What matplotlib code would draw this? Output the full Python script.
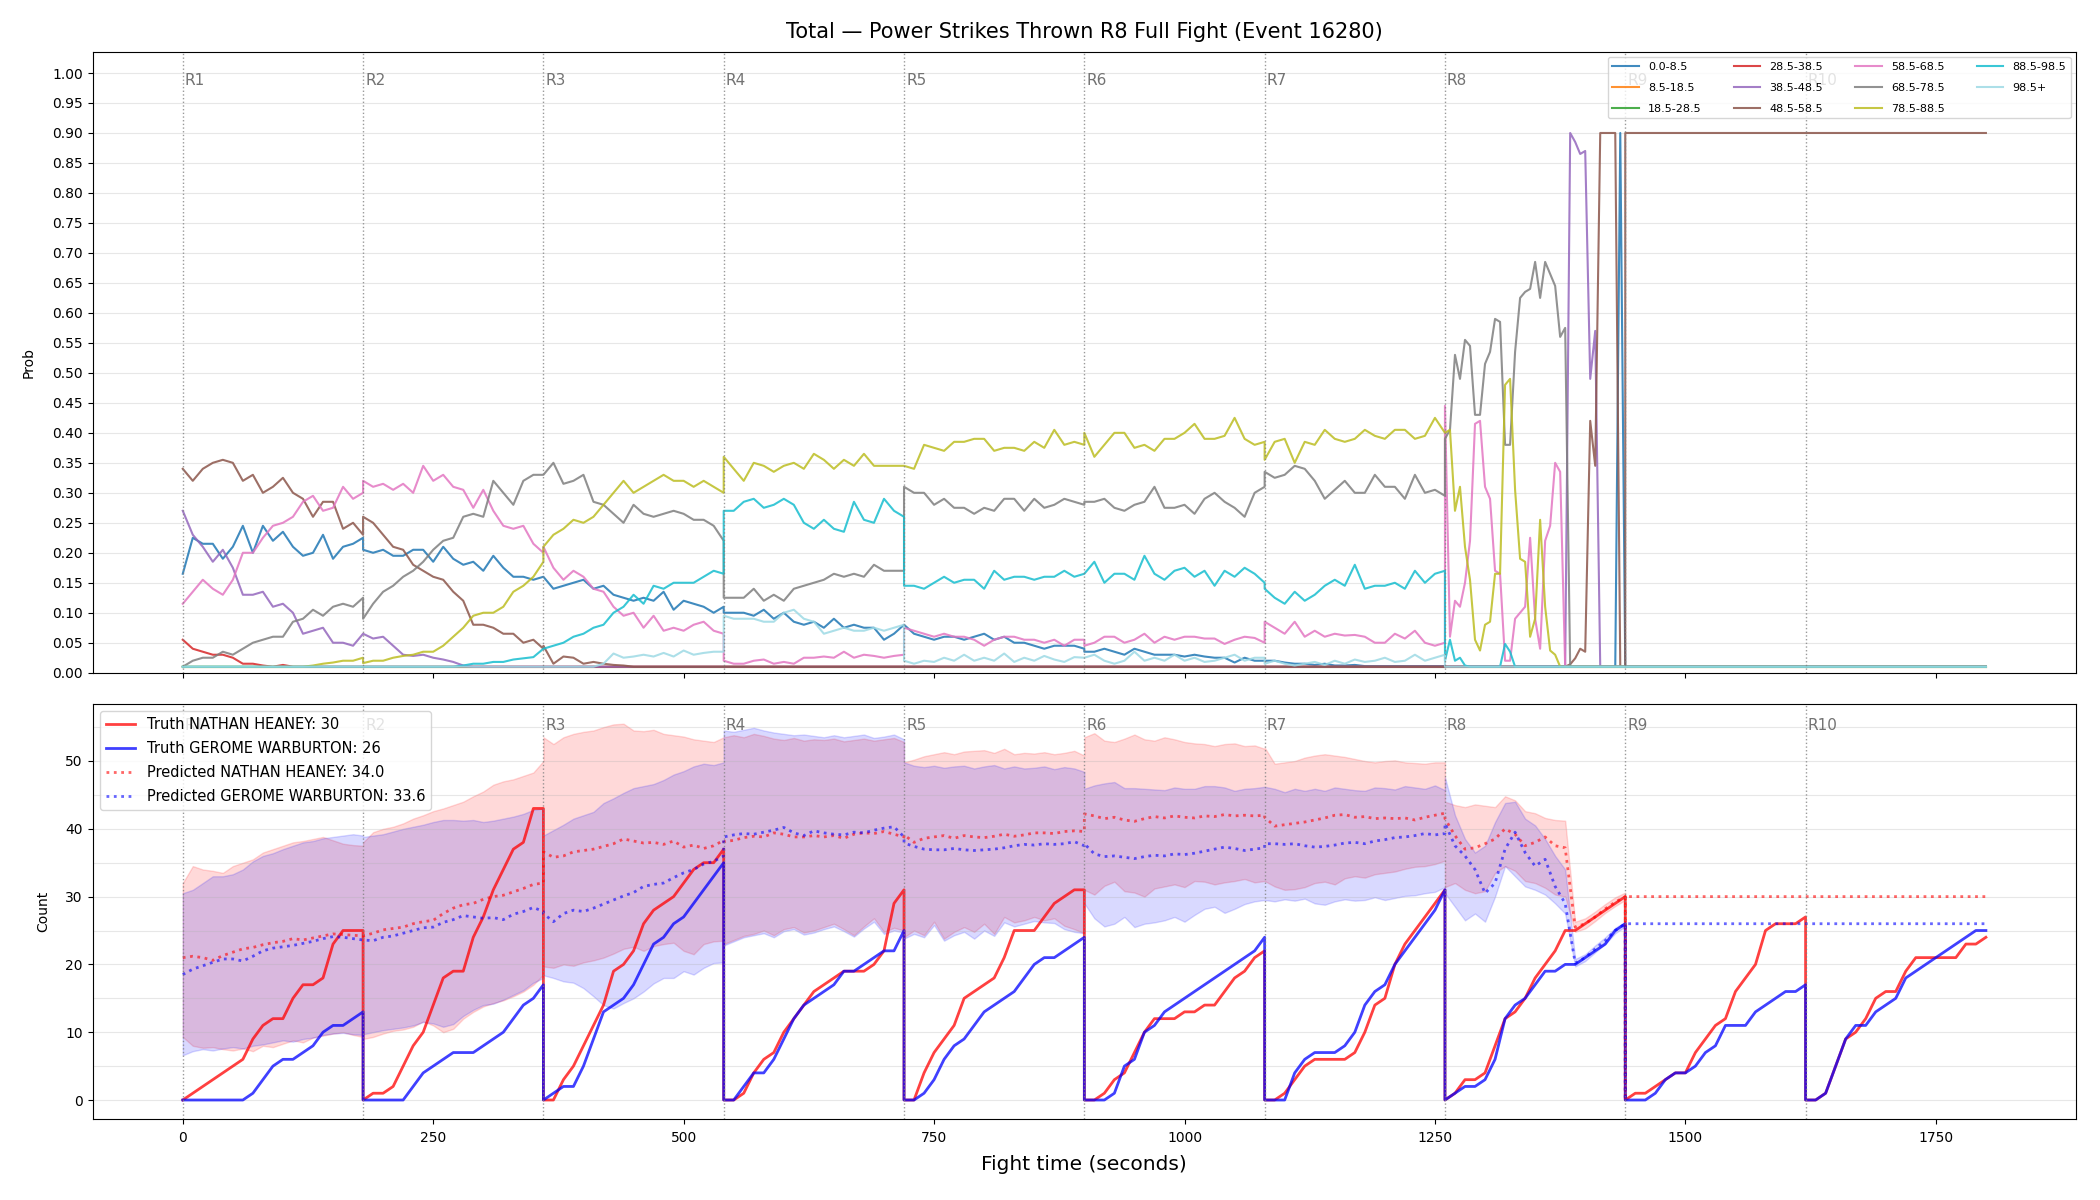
import numpy as np
import matplotlib
matplotlib.use("Agg")
import matplotlib.pyplot as plt
from matplotlib.ticker import MultipleLocator

ROUND_LEN = 180
round_starts = [0, 180, 360, 540, 720, 900, 1080, 1260, 1440, 1620]
round_names = ["R1", "R2", "R3", "R4", "R5", "R6", "R7", "R8", "R9", "R10"]

# ---- top panel: probability per bucket, one list per round (evenly spaced in the round)
bins = ["0.0-8.5", "8.5-18.5", "18.5-28.5", "28.5-38.5", "38.5-48.5", "48.5-58.5",
        "58.5-68.5", "68.5-78.5", "78.5-88.5", "88.5-98.5", "98.5+"]
bin_colors = ["#1f77b4", "#ff7f0e", "#2ca02c", "#d62728", "#9467bd", "#8c564b",
              "#e377c2", "#7f7f7f", "#bcbd22", "#17becf", "#9edae5"]

p_0_8 = [
    [0.165, 0.225, 0.215, 0.215, 0.19, 0.21, 0.245, 0.20, 0.245, 0.22, 0.235, 0.21, 0.195, 0.20, 0.23, 0.19, 0.21, 0.215, 0.225],
    [0.205, 0.20, 0.205, 0.195, 0.195, 0.205, 0.205, 0.185, 0.21, 0.19, 0.18, 0.185, 0.17, 0.195, 0.175, 0.16, 0.16, 0.155, 0.16],
    [0.16, 0.14, 0.145, 0.15, 0.155, 0.14, 0.145, 0.13, 0.125, 0.12, 0.125, 0.12, 0.135, 0.105, 0.12, 0.115, 0.11, 0.10, 0.11],
    [0.10, 0.10, 0.10, 0.095, 0.105, 0.09, 0.10, 0.085, 0.08, 0.085, 0.075, 0.09, 0.075, 0.08, 0.075, 0.075, 0.055, 0.065, 0.08],
    [0.08, 0.065, 0.06, 0.055, 0.06, 0.06, 0.055, 0.06, 0.065, 0.055, 0.06, 0.05, 0.05, 0.045, 0.04, 0.045, 0.045, 0.045, 0.04],
    [0.035, 0.035, 0.04, 0.035, 0.03, 0.04, 0.035, 0.03, 0.03, 0.03, 0.027, 0.03, 0.027, 0.025, 0.025, 0.017, 0.025, 0.02, 0.02],
    [0.02, 0.02, 0.017, 0.015, 0.015, 0.013, 0.015, 0.012, 0.012, 0.013, 0.011, 0.011, 0.011, 0.011, 0.011, 0.011, 0.011, 0.011, 0.011],
    [0.01, 0.01, 0.01, 0.01, 0.01, 0.01, 0.01, 0.01, 0.01, 0.01,
     0.01, 0.01, 0.01, 0.01, 0.01, 0.01, 0.01, 0.01, 0.01, 0.01,
     0.01, 0.01, 0.01, 0.01, 0.01, 0.01, 0.01, 0.01, 0.01, 0.01,
     0.01, 0.01, 0.01, 0.01, 0.01, 0.9, 0.01],
    [0.01, 0.01],
    [0.01, 0.01],
]
p_8_18 = [[0.01, 0.01], [0.01, 0.01], [0.01, 0.01], [0.01, 0.01], [0.01, 0.01],
          [0.01, 0.01], [0.01, 0.01], [0.01, 0.01], [0.01, 0.01], [0.01, 0.01]]
p_18_28 = [[0.01, 0.01], [0.01, 0.01], [0.01, 0.01], [0.01, 0.01], [0.01, 0.01],
           [0.01, 0.01], [0.01, 0.01], [0.01, 0.01], [0.01, 0.01], [0.01, 0.01]]
p_28_38 = [
    [0.055, 0.04, 0.035, 0.03, 0.03, 0.025, 0.015, 0.015, 0.012, 0.01, 0.013, 0.01, 0.01, 0.01, 0.01, 0.01, 0.01, 0.01, 0.01],
    [0.01, 0.01], [0.01, 0.01], [0.01, 0.01], [0.01, 0.01], [0.01, 0.01],
    [0.01, 0.01], [0.01, 0.01], [0.01, 0.01], [0.01, 0.01],
]
p_38_48 = [
    [0.27, 0.23, 0.21, 0.185, 0.205, 0.175, 0.13, 0.13, 0.135, 0.11, 0.115, 0.10, 0.065, 0.07, 0.075, 0.05, 0.05, 0.045, 0.065],
    [0.065, 0.057, 0.06, 0.045, 0.03, 0.028, 0.03, 0.025, 0.022, 0.018, 0.012, 0.01, 0.01, 0.01, 0.01, 0.01, 0.01, 0.01, 0.01],
    [0.01, 0.01], [0.01, 0.01], [0.01, 0.01], [0.01, 0.01], [0.01, 0.01],
    [0.01, 0.01, 0.01, 0.01, 0.01, 0.01, 0.01, 0.01, 0.01, 0.01,
     0.01, 0.01, 0.01, 0.01, 0.01, 0.01, 0.01, 0.01, 0.01, 0.01,
     0.01, 0.01, 0.01, 0.01, 0.01, 0.9, 0.885, 0.865, 0.87, 0.49,
     0.57, 0.01, 0.01, 0.01, 0.01, 0.01, 0.01],
    [0.01, 0.01],
    [0.01, 0.01],
]
p_48_58 = [
    [0.34, 0.32, 0.34, 0.35, 0.355, 0.35, 0.32, 0.33, 0.30, 0.31, 0.325, 0.30, 0.29, 0.26, 0.285, 0.285, 0.24, 0.25, 0.23],
    [0.26, 0.25, 0.23, 0.21, 0.205, 0.18, 0.17, 0.16, 0.155, 0.135, 0.12, 0.08, 0.08, 0.075, 0.065, 0.065, 0.05, 0.055, 0.04],
    [0.045, 0.015, 0.027, 0.025, 0.015, 0.018, 0.015, 0.013, 0.012, 0.01, 0.01, 0.01, 0.01, 0.01, 0.01, 0.01, 0.01, 0.01, 0.01],
    [0.01, 0.01], [0.01, 0.01], [0.01, 0.01], [0.01, 0.01],
    [0.01, 0.01, 0.01, 0.01, 0.01, 0.01, 0.01, 0.01, 0.01, 0.01,
     0.01, 0.01, 0.01, 0.01, 0.01, 0.01, 0.01, 0.01, 0.01, 0.01,
     0.01, 0.01, 0.01, 0.01, 0.01, 0.014, 0.024, 0.04, 0.035, 0.42,
     0.345, 0.9, 0.9, 0.9, 0.9, 0.01, 0.01],
    [0.9, 0.9],
    [0.9, 0.9],
]
p_58_68 = [
    [0.115, 0.135, 0.155, 0.14, 0.13, 0.155, 0.20, 0.20, 0.225, 0.245, 0.25, 0.26, 0.285, 0.295, 0.27, 0.275, 0.31, 0.29, 0.30],
    [0.32, 0.31, 0.315, 0.305, 0.315, 0.30, 0.345, 0.32, 0.33, 0.31, 0.305, 0.275, 0.305, 0.27, 0.245, 0.24, 0.245, 0.215, 0.20],
    [0.21, 0.175, 0.155, 0.17, 0.16, 0.14, 0.135, 0.11, 0.095, 0.10, 0.075, 0.095, 0.07, 0.075, 0.07, 0.08, 0.085, 0.07, 0.065],
    [0.02, 0.015, 0.015, 0.02, 0.022, 0.015, 0.018, 0.015, 0.025, 0.025, 0.027, 0.025, 0.035, 0.025, 0.03, 0.028, 0.025, 0.028, 0.03],
    [0.075, 0.07, 0.065, 0.06, 0.065, 0.06, 0.06, 0.055, 0.045, 0.055, 0.06, 0.06, 0.055, 0.055, 0.05, 0.055, 0.045, 0.055, 0.055],
    [0.045, 0.05, 0.06, 0.06, 0.05, 0.055, 0.065, 0.05, 0.06, 0.055, 0.06, 0.06, 0.057, 0.057, 0.048, 0.055, 0.06, 0.058, 0.05],
    [0.085, 0.075, 0.065, 0.085, 0.06, 0.07, 0.06, 0.065, 0.062, 0.063, 0.06, 0.05, 0.05, 0.065, 0.057, 0.07, 0.05, 0.045, 0.05],
    [0.445, 0.06, 0.12, 0.11, 0.15, 0.22, 0.415, 0.42, 0.31, 0.29,
     0.17, 0.165, 0.02, 0.02, 0.09, 0.10, 0.11, 0.225, 0.09, 0.04,
     0.22, 0.245, 0.35, 0.335, 0.01, 0.01, 0.01, 0.01, 0.01, 0.01,
     0.01, 0.01, 0.01, 0.01, 0.01, 0.01, 0.01],
    [0.01, 0.01],
    [0.01, 0.01],
]
p_68_78 = [
    [0.01, 0.02, 0.025, 0.025, 0.035, 0.03, 0.04, 0.05, 0.055, 0.06, 0.06, 0.085, 0.09, 0.105, 0.095, 0.11, 0.115, 0.11, 0.125],
    [0.09, 0.115, 0.135, 0.145, 0.16, 0.17, 0.185, 0.205, 0.22, 0.225, 0.26, 0.265, 0.26, 0.32, 0.30, 0.28, 0.32, 0.33, 0.33],
    [0.33, 0.35, 0.315, 0.32, 0.33, 0.285, 0.28, 0.265, 0.25, 0.28, 0.265, 0.26, 0.265, 0.27, 0.265, 0.255, 0.255, 0.245, 0.22],
    [0.125, 0.125, 0.125, 0.14, 0.12, 0.13, 0.12, 0.14, 0.145, 0.15, 0.155, 0.165, 0.16, 0.165, 0.16, 0.18, 0.17, 0.17, 0.17],
    [0.31, 0.30, 0.30, 0.28, 0.29, 0.275, 0.275, 0.265, 0.275, 0.27, 0.29, 0.29, 0.27, 0.29, 0.275, 0.28, 0.29, 0.285, 0.28],
    [0.285, 0.285, 0.29, 0.275, 0.27, 0.28, 0.285, 0.31, 0.275, 0.275, 0.28, 0.265, 0.29, 0.30, 0.285, 0.275, 0.26, 0.30, 0.31],
    [0.335, 0.325, 0.33, 0.345, 0.34, 0.32, 0.29, 0.305, 0.32, 0.30, 0.30, 0.33, 0.31, 0.31, 0.29, 0.33, 0.30, 0.305, 0.295],
    [0.39, 0.405, 0.53, 0.49, 0.555, 0.545, 0.43, 0.43, 0.515, 0.535,
     0.59, 0.585, 0.38, 0.38, 0.535, 0.625, 0.635, 0.64, 0.685, 0.625,
     0.685, 0.665, 0.645, 0.56, 0.575, 0.01, 0.01, 0.01, 0.01, 0.01,
     0.01, 0.01, 0.01, 0.01, 0.01, 0.01, 0.01],
    [0.01, 0.01],
    [0.01, 0.01],
]
p_78_88 = [
    [0.01, 0.01, 0.01, 0.01, 0.01, 0.01, 0.01, 0.01, 0.01, 0.01, 0.01, 0.01, 0.01, 0.012, 0.015, 0.017, 0.02, 0.02, 0.025],
    [0.016, 0.02, 0.02, 0.025, 0.028, 0.03, 0.035, 0.035, 0.045, 0.06, 0.075, 0.095, 0.10, 0.10, 0.11, 0.135, 0.145, 0.16, 0.185],
    [0.21, 0.23, 0.24, 0.255, 0.25, 0.26, 0.28, 0.30, 0.32, 0.30, 0.31, 0.32, 0.33, 0.32, 0.32, 0.31, 0.32, 0.31, 0.30],
    [0.36, 0.34, 0.32, 0.35, 0.345, 0.335, 0.345, 0.35, 0.34, 0.365, 0.355, 0.34, 0.355, 0.345, 0.365, 0.345, 0.345, 0.345, 0.345],
    [0.345, 0.34, 0.38, 0.375, 0.37, 0.385, 0.385, 0.39, 0.39, 0.37, 0.375, 0.375, 0.37, 0.385, 0.375, 0.405, 0.38, 0.385, 0.38],
    [0.40, 0.36, 0.38, 0.40, 0.40, 0.375, 0.38, 0.37, 0.39, 0.39, 0.40, 0.415, 0.39, 0.39, 0.395, 0.425, 0.39, 0.38, 0.385],
    [0.355, 0.385, 0.39, 0.35, 0.385, 0.38, 0.405, 0.39, 0.385, 0.39, 0.405, 0.395, 0.39, 0.405, 0.405, 0.39, 0.395, 0.425, 0.40],
    [0.40, 0.405, 0.27, 0.31, 0.21, 0.155, 0.055, 0.037, 0.08, 0.085,
     0.165, 0.165, 0.48, 0.49, 0.305, 0.19, 0.185, 0.06, 0.09, 0.255,
     0.11, 0.037, 0.03, 0.01, 0.01, 0.01, 0.01, 0.01, 0.01, 0.01,
     0.01, 0.01, 0.01, 0.01, 0.01, 0.01, 0.01],
    [0.01, 0.01],
    [0.01, 0.01],
]
p_88_98 = [
    [0.01, 0.01],
    [0.01, 0.01, 0.01, 0.01, 0.01, 0.01, 0.01, 0.01, 0.01, 0.01, 0.012, 0.015, 0.015, 0.018, 0.018, 0.022, 0.024, 0.026, 0.04],
    [0.04, 0.045, 0.05, 0.06, 0.065, 0.075, 0.08, 0.10, 0.11, 0.13, 0.115, 0.145, 0.14, 0.15, 0.15, 0.15, 0.16, 0.17, 0.165],
    [0.27, 0.27, 0.285, 0.29, 0.275, 0.28, 0.29, 0.28, 0.25, 0.24, 0.255, 0.24, 0.235, 0.285, 0.255, 0.25, 0.29, 0.27, 0.26],
    [0.145, 0.145, 0.14, 0.15, 0.16, 0.15, 0.155, 0.155, 0.14, 0.17, 0.155, 0.16, 0.16, 0.155, 0.16, 0.16, 0.17, 0.16, 0.165],
    [0.165, 0.185, 0.15, 0.165, 0.165, 0.155, 0.195, 0.165, 0.155, 0.17, 0.175, 0.16, 0.17, 0.145, 0.17, 0.16, 0.175, 0.165, 0.15],
    [0.14, 0.125, 0.115, 0.135, 0.12, 0.13, 0.145, 0.155, 0.145, 0.18, 0.14, 0.145, 0.145, 0.15, 0.14, 0.17, 0.15, 0.165, 0.17],
    [0.02, 0.055, 0.02, 0.025, 0.012, 0.01, 0.01, 0.01, 0.01, 0.01,
     0.01, 0.01, 0.048, 0.035, 0.01, 0.01, 0.01, 0.01, 0.01, 0.01,
     0.01, 0.01, 0.01, 0.01, 0.01, 0.01, 0.01, 0.01, 0.01, 0.01,
     0.01, 0.01, 0.01, 0.01, 0.01, 0.01, 0.01],
    [0.01, 0.01],
    [0.01, 0.01],
]
p_98_up = [
    [0.01, 0.01],
    [0.01, 0.01],
    [0.01, 0.01, 0.01, 0.01, 0.01, 0.01, 0.015, 0.032, 0.025, 0.027, 0.03, 0.027, 0.033, 0.027, 0.037, 0.03, 0.033, 0.035, 0.035],
    [0.095, 0.09, 0.09, 0.09, 0.085, 0.085, 0.10, 0.105, 0.09, 0.085, 0.065, 0.07, 0.075, 0.07, 0.07, 0.075, 0.07, 0.075, 0.08],
    [0.02, 0.015, 0.02, 0.018, 0.025, 0.02, 0.03, 0.02, 0.025, 0.02, 0.032, 0.018, 0.025, 0.02, 0.028, 0.022, 0.018, 0.026, 0.025],
    [0.025, 0.03, 0.02, 0.015, 0.02, 0.035, 0.02, 0.025, 0.02, 0.03, 0.02, 0.025, 0.018, 0.02, 0.025, 0.03, 0.02, 0.025, 0.025],
    [0.015, 0.02, 0.015, 0.012, 0.015, 0.018, 0.013, 0.02, 0.015, 0.022, 0.018, 0.02, 0.025, 0.018, 0.02, 0.03, 0.02, 0.025, 0.03],
    [0.01, 0.01],
    [0.01, 0.01],
    [0.01, 0.01],
]
probs = [p_0_8, p_8_18, p_18_28, p_28_38, p_38_48, p_48_58,
         p_58_68, p_68_78, p_78_88, p_88_98, p_98_up]

# ---- bottom panel: cumulative counts per round (10 s samples)
truth_heaney = [
    [0, 1, 2, 3, 4, 5, 6, 9, 11, 12, 12, 15, 17, 17, 18, 23, 25, 25, 25],
    [0, 1, 1, 2, 5, 8, 10, 14, 18, 19, 19, 24, 27, 31, 34, 37, 38, 43, 43],
    [0, 0, 3, 5, 8, 11, 14, 19, 20, 22, 26, 28, 29, 30, 32, 34, 35, 35, 37],
    [0, 0, 1, 4, 6, 7, 10, 12, 14, 16, 17, 18, 19, 19, 19, 20, 22, 29, 31],
    [0, 0, 4, 7, 9, 11, 15, 16, 17, 18, 21, 25, 25, 25, 27, 29, 30, 31, 31],
    [0, 0, 1, 3, 4, 7, 10, 12, 12, 12, 13, 13, 14, 14, 16, 18, 19, 21, 22],
    [0, 0, 1, 3, 5, 6, 6, 6, 6, 7, 10, 14, 15, 20, 23, 25, 27, 29, 31],
    [0, 1, 3, 3, 4, 8, 12, 13, 15, 18, 20, 22, 25, 25, 26, 27, 28, 29, 30],
    [0, 1, 1, 2, 3, 4, 4, 7, 9, 11, 12, 16, 18, 20, 25, 26, 26, 26, 27],
    [0, 0, 1, 5, 9, 10, 12, 15, 16, 16, 19, 21, 21, 21, 21, 21, 23, 23, 24],
]
truth_warburton = [
    [0, 0, 0, 0, 0, 0, 0, 1, 3, 5, 6, 6, 7, 8, 10, 11, 11, 12, 13],
    [0, 0, 0, 0, 0, 2, 4, 5, 6, 7, 7, 7, 8, 9, 10, 12, 14, 15, 17],
    [0, 1, 2, 2, 5, 9, 13, 14, 15, 17, 20, 23, 24, 26, 27, 29, 31, 33, 35],
    [0, 0, 2, 4, 4, 6, 9, 12, 14, 15, 16, 17, 19, 19, 20, 21, 22, 22, 25],
    [0, 0, 1, 3, 6, 8, 9, 11, 13, 14, 15, 16, 18, 20, 21, 21, 22, 23, 24],
    [0, 0, 0, 1, 5, 6, 10, 11, 13, 14, 15, 16, 17, 18, 19, 20, 21, 22, 24],
    [0, 0, 0, 4, 6, 7, 7, 7, 8, 10, 14, 16, 17, 20, 22, 24, 26, 28, 31],
    [0, 1, 2, 2, 3, 6, 12, 14, 15, 17, 19, 19, 20, 20, 21, 22, 23, 25, 26],
    [0, 0, 0, 1, 3, 4, 4, 5, 7, 8, 11, 11, 11, 13, 14, 15, 16, 16, 17],
    [0, 0, 1, 5, 9, 11, 11, 13, 14, 15, 18, 19, 20, 21, 22, 23, 24, 25, 25],
]
pred_heaney = [
    [21.0, 21.2, 21.0, 20.6, 21.3, 21.8, 22.3, 22.5, 22.9, 23.2, 23.4, 23.8, 23.6, 23.9, 24.2, 24.5, 24.4, 24.3, 24.2],
    [24.2, 24.6, 25.1, 25.3, 25.5, 26.0, 26.3, 26.5, 27.5, 28.3, 28.8, 29.0, 29.6, 30.0, 30.2, 30.7, 31.2, 31.8, 32.0],
    [36.6, 35.8, 36.0, 36.6, 36.8, 37.0, 37.4, 37.8, 38.5, 38.2, 37.9, 38.0, 37.7, 38.2, 37.3, 37.6, 37.1, 37.5, 38.3],
    [38.1, 38.3, 38.7, 38.9, 38.8, 39.4, 39.2, 38.8, 38.8, 39.0, 38.8, 39.0, 38.6, 39.2, 39.4, 39.3, 39.6, 39.2, 38.8],
    [39.1, 38.0, 38.6, 38.8, 39.0, 38.6, 39.0, 38.8, 38.7, 38.9, 39.2, 38.9, 39.1, 39.4, 39.4, 39.3, 39.6, 39.7, 39.6],
    [42.2, 41.9, 41.5, 41.7, 41.3, 41.1, 41.5, 41.8, 41.6, 41.9, 41.7, 41.6, 41.9, 41.8, 42.1, 41.9, 42.0, 41.9, 42.0],
    [41.7, 40.4, 40.6, 40.8, 41.0, 41.3, 41.6, 42.0, 42.1, 41.7, 41.8, 41.5, 41.6, 41.5, 41.6, 41.3, 41.7, 42.0, 42.3],
    [41.5, 39.0, 37.0, 37.2, 37.8, 38.5, 40.0, 39.2, 37.5, 38.0, 38.8, 37.5, 37.2, 25.5, 26.0, 27.0, 28.2, 29.2, 30.0],
]
pred_warburton = [
    [18.5, 19.3, 19.8, 20.3, 20.8, 20.8, 20.5, 21.2, 22.0, 22.4, 22.6, 22.8, 23.1, 23.4, 23.8, 24.1, 24.0, 23.8, 23.6],
    [23.6, 23.5, 24.0, 24.2, 24.6, 25.0, 25.4, 25.5, 26.2, 26.6, 27.2, 27.0, 26.8, 26.9, 26.6, 27.4, 27.8, 28.4, 27.8],
    [27.5, 26.3, 27.5, 28.0, 27.8, 28.3, 28.9, 29.5, 30.1, 30.6, 31.5, 31.8, 32.0, 32.8, 33.5, 34.0, 34.8, 35.2, 36.0],
    [38.8, 39.1, 39.3, 39.2, 39.5, 39.8, 40.2, 39.4, 39.0, 39.7, 39.4, 39.2, 39.1, 39.5, 39.4, 39.8, 40.1, 40.3, 38.8],
    [37.9, 37.4, 37.0, 36.9, 36.9, 37.1, 36.9, 36.8, 36.9, 37.0, 37.2, 37.5, 37.7, 37.6, 37.8, 37.7, 37.8, 38.1, 37.5],
    [37.8, 36.3, 35.9, 36.0, 35.8, 35.6, 35.9, 36.1, 36.0, 36.3, 36.2, 36.4, 36.7, 37.0, 37.3, 37.1, 36.8, 37.0, 37.2],
    [37.8, 37.8, 37.7, 37.8, 37.5, 37.3, 37.4, 37.6, 37.9, 38.0, 37.8, 38.2, 38.4, 38.7, 38.8, 39.0, 39.3, 39.1, 39.3],
    [40.8, 37.5, 36.0, 34.0, 30.5, 32.0, 37.0, 39.5, 36.5, 34.5, 35.5, 31.5, 29.0, 20.2, 21.0, 22.3, 23.5, 25.0, 26.0],
]
# after the last scored round the prediction is the final total
pred_tail_t = [1440, 1440, 1800]
pred_tail_heaney = [0, 30, 30]
pred_tail_warburton = [0, 26, 26]

band_hi_heaney = [
    [32.0, 34.5, 34.0, 33.8, 33.5, 34.5, 35.0, 35.5, 36.5, 37.0, 37.5, 38.0, 38.2, 38.5, 38.8, 38.3, 37.8, 37.6, 37.5],
    [38.0, 39.5, 40.0, 40.3, 40.8, 41.5, 42.0, 42.6, 43.0, 43.5, 44.0, 44.8, 45.5, 46.5, 47.0, 47.3, 47.8, 48.3, 50.0],
    [53.5, 52.5, 53.5, 54.0, 54.3, 54.5, 55.0, 55.4, 55.5, 54.5, 54.4, 54.6, 54.0, 53.8, 53.6, 53.2, 53.0, 52.8, 53.5],
    [53.5, 53.8, 53.5, 54.0, 53.7, 53.3, 53.1, 53.4, 53.0, 53.2, 53.1, 53.3, 52.9, 53.1, 53.3, 53.0, 53.2, 53.4, 52.8],
    [49.8, 50.2, 50.7, 51.0, 51.3, 51.0, 51.4, 51.5, 51.6, 51.2, 51.8, 51.0, 51.2, 51.1, 51.3, 51.0, 51.2, 51.5, 50.8],
    [53.5, 54.1, 53.0, 52.8, 53.3, 53.9, 53.2, 53.0, 53.5, 53.2, 52.8, 52.6, 52.5, 52.2, 52.5, 52.6, 52.2, 52.3, 51.8],
    [52.0, 49.6, 49.8, 50.0, 50.5, 50.8, 51.0, 50.8, 50.6, 50.3, 50.0, 49.8, 50.0, 50.1, 49.8, 49.7, 49.6, 49.8, 49.8],
    [44.0, 43.5, 43.2, 43.6, 43.4, 43.2, 44.8, 44.2, 42.6, 42.3, 41.6, 41.3, 41.2, 26.3, 26.8, 27.8, 28.9, 29.9, 30.6],
]
band_lo_heaney = [
    [9.3, 8.0, 7.7, 7.8, 7.5, 7.3, 7.6, 7.2, 8.0, 7.8, 8.3, 8.8, 8.5, 9.2, 9.5, 9.8, 10.0, 9.6, 9.3],
    [9.0, 9.3, 9.8, 10.2, 10.4, 10.8, 11.6, 11.0, 10.0, 10.5, 12.0, 13.0, 13.8, 14.3, 14.7, 15.3, 16.0, 17.0, 18.5],
    [19.7, 19.5, 20.0, 19.8, 20.3, 20.6, 21.0, 21.6, 22.3, 22.6, 22.0, 22.7, 23.0, 23.2, 22.0, 21.5, 23.0, 23.4, 23.5],
    [23.0, 23.6, 24.2, 24.5, 25.0, 24.3, 25.2, 25.5, 24.7, 25.0, 25.5, 26.0, 25.2, 24.3, 25.6, 26.8, 24.8, 25.4, 25.0],
    [24.0, 25.0, 24.3, 26.3, 23.8, 24.8, 25.5, 24.8, 26.0, 24.5, 27.0, 26.2, 26.5, 27.0, 26.5, 26.8, 25.7, 25.2, 24.6],
    [31.0, 30.3, 31.6, 32.2, 30.8, 30.6, 30.0, 31.2, 31.5, 31.8, 31.4, 32.3, 32.2, 31.8, 32.1, 32.3, 32.6, 32.1, 32.3],
    [32.3, 31.5, 31.0, 31.1, 31.4, 32.0, 32.2, 31.8, 32.7, 33.0, 32.8, 33.3, 33.5, 33.7, 34.1, 34.4, 34.5, 34.8, 35.3],
    [31.4, 32.0, 31.0, 30.5, 30.8, 33.5, 34.5, 33.8, 32.3, 32.0, 31.3, 30.3, 30.0, 24.8, 25.3, 26.4, 27.6, 28.6, 29.5],
]
band_hi_warburton = [
    [30.5, 31.0, 32.0, 33.0, 33.0, 33.3, 34.0, 35.2, 36.0, 36.4, 37.0, 37.5, 38.0, 38.2, 38.6, 38.8, 39.0, 39.2, 39.0],
    [38.8, 39.0, 39.2, 39.6, 40.0, 40.3, 40.6, 41.0, 41.3, 41.3, 41.2, 41.3, 41.0, 41.2, 41.5, 41.8, 42.2, 42.8, 43.0],
    [39.0, 39.8, 40.6, 41.5, 42.0, 42.5, 43.8, 44.5, 45.3, 46.0, 46.3, 46.6, 47.2, 48.0, 48.5, 49.2, 49.6, 49.4, 49.8],
    [54.5, 54.3, 54.6, 54.9, 54.5, 54.2, 54.0, 53.8, 53.9, 53.7, 53.5, 53.8, 53.5, 53.7, 53.9, 53.4, 53.6, 53.9, 53.2],
    [49.8, 49.3, 49.1, 49.3, 49.0, 49.2, 49.3, 48.9, 49.2, 49.4, 48.9, 49.2, 48.9, 49.0, 49.2, 48.8, 49.1, 48.9, 48.4],
    [45.9, 46.4, 46.7, 46.9, 46.0, 46.0, 45.9, 45.8, 45.7, 46.1, 45.9, 45.9, 46.3, 46.3, 46.1, 45.6, 45.9, 46.0, 46.2],
    [46.2, 45.9, 45.4, 45.9, 45.6, 45.9, 45.6, 46.1, 45.9, 45.7, 45.6, 46.1, 46.0, 45.8, 46.3, 46.1, 45.9, 46.4, 45.7],
    [47.6, 42.0, 38.5, 36.5, 37.5, 41.0, 43.8, 44.0, 41.5, 40.5, 38.5, 36.0, 34.0, 20.8, 21.5, 22.8, 24.0, 25.4, 26.3],
]
band_lo_warburton = [
    [6.6, 7.2, 7.5, 7.3, 7.6, 7.8, 7.6, 8.0, 8.2, 8.5, 8.8, 8.6, 9.0, 9.2, 9.6, 9.8, 9.9, 9.7, 9.6],
    [9.7, 10.0, 10.3, 10.5, 10.7, 11.0, 11.5, 11.3, 10.8, 11.2, 12.4, 13.3, 14.0, 14.2, 14.8, 15.5, 16.2, 17.3, 18.0],
    [18.4, 18.0, 17.5, 17.3, 16.5, 15.3, 14.0, 13.5, 14.3, 15.0, 16.0, 17.2, 18.0, 18.0, 19.0, 18.5, 19.5, 20.2, 20.3],
    [22.8, 23.4, 24.0, 24.3, 24.6, 24.0, 24.9, 25.2, 24.4, 24.7, 25.2, 25.6, 24.9, 24.1, 25.3, 26.3, 24.5, 25.0, 24.7],
    [23.8, 24.5, 24.0, 25.8, 23.5, 24.3, 24.8, 23.8, 25.0, 24.2, 26.2, 25.6, 26.0, 26.4, 26.2, 26.1, 25.2, 24.8, 24.6],
    [29.0, 26.8, 25.6, 26.0, 27.0, 25.5, 26.0, 26.2, 26.5, 27.0, 26.3, 27.3, 28.2, 28.5, 27.6, 28.2, 28.9, 29.3, 29.5],
    [29.5, 29.3, 29.6, 29.4, 29.7, 29.0, 28.8, 29.3, 29.6, 29.4, 29.5, 29.9, 29.5, 29.8, 30.1, 30.2, 30.5, 30.7, 31.4],
    [30.5, 28.5, 26.5, 27.5, 26.3, 30.0, 34.5, 33.0, 31.5, 31.0, 30.3, 29.0, 27.5, 19.7, 20.5, 21.8, 23.0, 24.6, 25.6],
]


def stitch(per_round):
    """Join per-round lists into one series; each round's samples span the round."""
    ts, vs = [], []
    for start, vals in zip(round_starts, per_round):
        ts.extend(np.linspace(start, start + ROUND_LEN, len(vals)))
        vs.extend(vals)
    return np.array(ts), np.array(vs)


fig = plt.figure(figsize=(21, 12), dpi=100)
ax1 = fig.add_axes([0.0441, 0.4394, 0.9445, 0.5175])
ax2 = fig.add_axes([0.0441, 0.0675, 0.9445, 0.3458], sharex=ax1)

# top: bucket probabilities
for name, col, series in zip(bins, bin_colors, probs):
    t, v = stitch(series)
    ax1.plot(t, v, color=col, lw=1.5, alpha=0.85, label=name)
ax1.set_ylim(0, 1.0355)
ax1.yaxis.set_major_locator(MultipleLocator(0.05))
ax1.set_ylabel("Prob", fontsize=10, labelpad=12)
ax1.grid(axis="y", alpha=0.3)
ax1.set_title("Total — Power Strikes Thrown R8 Full Fight (Event 16280)", fontsize=15, pad=10)
ax1.legend(loc="upper right", ncol=4, fontsize=8, handlelength=2.4,
           columnspacing=2.9, labelspacing=1.0)
plt.setp(ax1.get_xticklabels(), visible=False)

# bottom: truth vs prediction
t, lo = stitch(band_lo_heaney)
_, hi = stitch(band_hi_heaney)
ax2.fill_between(t, lo, hi, color="red", alpha=0.15)
t, lo = stitch(band_lo_warburton)
_, hi = stitch(band_hi_warburton)
ax2.fill_between(t, lo, hi, color="blue", alpha=0.15)

t, v = stitch(truth_heaney)
ax2.plot(t, v, color="red", lw=2, alpha=0.75, label="Truth NATHAN HEANEY: 30")
t, v = stitch(truth_warburton)
ax2.plot(t, v, color="blue", lw=2, alpha=0.75, label="Truth GEROME WARBURTON: 26")

t, v = stitch(pred_heaney)
ax2.plot(np.r_[t, pred_tail_t], np.r_[v, pred_tail_heaney], ":", color="red", lw=2, alpha=0.6,
         label="Predicted NATHAN HEANEY: 34.0")
t, v = stitch(pred_warburton)
ax2.plot(np.r_[t, pred_tail_t], np.r_[v, pred_tail_warburton], ":", color="blue", lw=2, alpha=0.6,
         label="Predicted GEROME WARBURTON: 33.6")

ax2.set_ylim(-2.8, 58.4)
ax2.yaxis.set_major_locator(MultipleLocator(10))
ax2.yaxis.set_minor_locator(MultipleLocator(5))
ax2.tick_params(axis="y", which="minor", length=0)
ax2.tick_params(axis="x", pad=5.5)
ax2.grid(axis="y", which="both", alpha=0.3)
ax2.set_ylabel("Count", fontsize=10, labelpad=10.5)
ax2.set_xlabel("Fight time (seconds)", fontsize=14.5, labelpad=7)
ax2.legend(loc="upper left", fontsize=10.5, labelspacing=0.62)

# round markers
for ax in (ax1, ax2):
    for start, name in zip(round_starts, round_names):
        ax.axvline(start, color="gray", ls=":", lw=1, alpha=0.8)
        ax.text(start + 2, 0.966, name, transform=ax.get_xaxis_transform(),
                ha="left", va="top", fontsize=11, color="0.45")

ax1.set_xlim(-90, 1890)

fig.savefig("out.png", dpi=100)
